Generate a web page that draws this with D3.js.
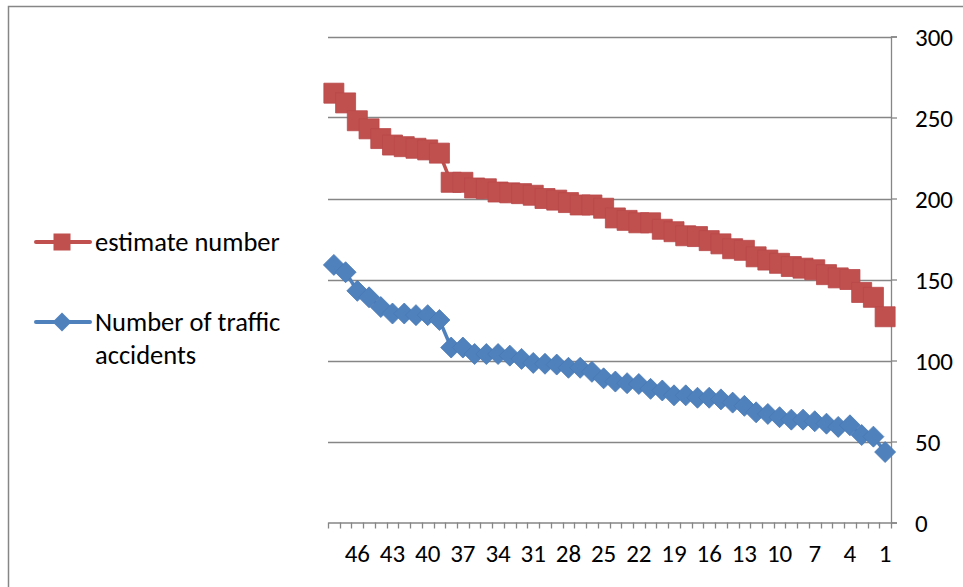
<!DOCTYPE html>
<html>
<head>
<meta charset="utf-8">
<script src="https://cdn.jsdelivr.net/npm/d3@7"></script>
<style>
  html, body { margin: 0; padding: 0; background: #fff; }
  svg { display: block; }
  text { font-family: Carlito, Lato, "Noto Sans", sans-serif; fill: #000; }
</style>
</head>
<body>
<svg id="chart" width="963" height="587"></svg>
<script>
const categories = ["48","47","46","45","44","43","42","41","40","39","38","37","36","35","34","33","32","31","30","29","28","27","26","25","24","23","22","21","20","19","18","17","16","15","14","13","12","11","10","9","8","7","6","5","4","3","2","1"];
const xTickLabels = ["46","43","40","37","34","31","28","25","22","19","16","13","10","7","4","1"];
const yTicks = [0, 50, 100, 150, 200, 250, 300];
const seriesNames = ["estimate number", "Number of traffic accidents"];
const estimateNumber = [265, 259, 248, 243, 237, 233, 232, 231, 230, 228, 210, 210, 206.5, 206, 204, 203.5, 203, 202, 200, 199, 197.5, 196, 196, 194, 188, 186.5, 185, 185, 181, 179.5, 177, 176.5, 174, 172, 169, 168, 164, 162, 160, 158, 157, 156, 153, 151, 150, 142, 139, 127];
const trafficAccidents = [159, 154.5, 143, 139, 133, 129, 129, 128, 128, 125, 108, 108, 104, 104, 104, 103, 101, 98.5, 98, 97.5, 95.5, 95.5, 93, 89, 87, 86, 85.5, 82.5, 81.5, 78.5, 78.5, 77, 77, 76, 74, 72, 68, 67, 65, 63.5, 63.5, 62.5, 61, 59, 60, 54, 53, 43.5];

const RED = "#C0504D", BLUE = "#4F81BD", GRID = "#868686";
const AXIS_FONT = "25px", LEGEND_FONT = "26.5px";
const svg = d3.select("#chart");

// outer frame
svg.append("rect").attr("x", 8.5).attr("y", 6.5).attr("width", 1100).attr("height", 1100)
  .attr("fill", "none").attr("stroke", GRID).attr("stroke-width", 1.5);

const x = d3.scaleBand().domain(categories).range([328, 891]).padding(0);
const y = d3.scaleLinear().domain([0, 300]).range([522.5, 36.5]);
const cx = c => x(c) + x.bandwidth() / 2;

// gridlines
svg.append("g").selectAll("line").data(yTicks.filter(d => d > 0)).join("line")
  .attr("x1", 328).attr("x2", 891).attr("y1", d => Math.round(y(d)) + 0.5).attr("y2", d => Math.round(y(d)) + 0.5)
  .attr("stroke", GRID).attr("stroke-width", 1.3);

// right y axis
const yAxis = d3.axisRight(y).tickValues(yTicks).tickSize(6).tickPadding(18).tickFormat(d3.format("d"));
const gy = svg.append("g").attr("transform", "translate(891,0)").call(yAxis);
gy.select(".domain").attr("stroke", GRID).attr("stroke-width", 1.3);
gy.selectAll(".tick line").attr("stroke", GRID).attr("stroke-width", 1.3);
gy.selectAll(".tick text").style("font-size", AXIS_FONT).attr("dy", "0.35em");

// x axis
const xAxis = d3.axisBottom(x).tickValues([]).tickSizeOuter(0);
const gx = svg.append("g").attr("transform", "translate(0,522.5)").call(xAxis);
gx.select(".domain").attr("stroke", GRID).attr("stroke-width", 1.3);
const boundaries = categories.map(c => x(c)).concat([891]);
gx.append("g").selectAll("line").data(boundaries).join("line")
  .attr("x1", d => Math.round(d) + 0.5).attr("x2", d => Math.round(d) + 0.5).attr("y1", 0).attr("y2", 6)
  .attr("stroke", GRID).attr("stroke-width", 1.3);
gx.append("g").selectAll("text").data(xTickLabels).join("text")
  .attr("x", d => cx(d)).attr("y", 31).attr("dy", "0.35em").attr("text-anchor", "middle")
  .style("font-size", AXIS_FONT).text(d => d);

// lines
const line = d3.line().x((d, i) => cx(categories[i])).y(d => y(d));
svg.append("path").datum(estimateNumber).attr("d", line).attr("fill", "none")
  .attr("stroke", RED).attr("stroke-width", 3.5).attr("stroke-linejoin", "round");
svg.append("path").datum(trafficAccidents).attr("d", line).attr("fill", "none")
  .attr("stroke", BLUE).attr("stroke-width", 3.5).attr("stroke-linejoin", "round");

const sq = d3.symbol().type(d3.symbolSquare).size(20 * 20);
svg.append("g").selectAll("path").data(estimateNumber).join("path")
  .attr("d", sq).attr("transform", (d, i) => `translate(${cx(categories[i])},${y(d)})`)
  .attr("fill", RED).attr("stroke", "#B9484A").attr("stroke-width", 0.8);

function diamond(s) {
  return `M0,${-s}L${s},0L0,${s}L${-s},0Z`;
}
svg.append("g").selectAll("path").data(trafficAccidents).join("path")
  .attr("d", diamond(10.5)).attr("transform", (d, i) => `translate(${cx(categories[i])},${y(d)})`)
  .attr("fill", BLUE).attr("stroke", "#4A7AB5").attr("stroke-width", 0.8);

// legend
const lg = svg.append("g");
lg.append("line").attr("x1", 36).attr("x2", 90).attr("y1", 242).attr("y2", 242)
  .attr("stroke", RED).attr("stroke-width", 4).attr("stroke-linecap", "round");
lg.append("rect").attr("x", 53.5).attr("y", 233.5).attr("width", 17).attr("height", 17).attr("fill", RED);
lg.append("text").attr("x", 95).attr("y", 242).attr("dy", "0.35em").style("font-size", LEGEND_FONT).text(seriesNames[0]);

lg.append("line").attr("x1", 36).attr("x2", 90).attr("y1", 322).attr("y2", 322)
  .attr("stroke", BLUE).attr("stroke-width", 4).attr("stroke-linecap", "round");
lg.append("path").attr("d", diamond(9.5)).attr("transform", "translate(62,322)").attr("fill", BLUE);
const t2 = lg.append("text").attr("x", 95).attr("y", 322).style("font-size", LEGEND_FONT);
t2.append("tspan").attr("x", 95).attr("dy", "0.35em").text("Number of traffic");
t2.append("tspan").attr("x", 95).attr("dy", "1.25em").text("accidents");
</script>
</body>
</html>
